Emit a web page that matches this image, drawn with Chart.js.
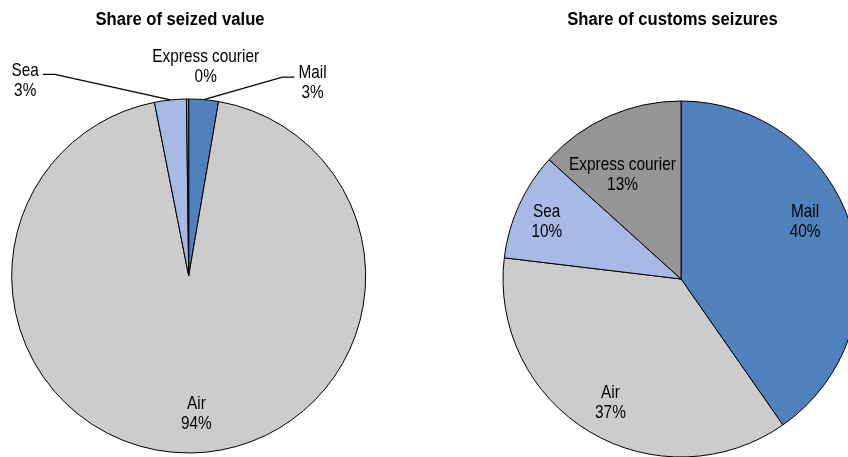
<!DOCTYPE html>
<html>
<head>
<meta charset="utf-8">
<title>Customs seizures by transport mode</title>
<script src="https://cdn.jsdelivr.net/npm/chart.js"></script>
<style>
  html,body{margin:0;padding:0;background:#fff}
  #wrap{position:relative;width:848px;height:457px;overflow:hidden}
  .box{position:absolute;top:0;width:424px;height:457px}
  #boxL{left:0} #boxR{left:424px}
</style>
</head>
<body>
<div id="wrap">
  <div class="box" id="boxL"><canvas id="chL"></canvas></div>
  <div class="box" id="boxR"><canvas id="chR"></canvas></div>
</div>
<script>
const modes = ['Mail', 'Air', 'Sea', 'Express courier']
const valueShare = [2.7, 94.2, 2.9, 0.2]
const seizureShare = [40.3, 36.6, 9.8, 13.3]
const titleValue = 'Share of seized value'
const titleSeizures = 'Share of customs seizures'
const colors = ['#4f81bd', '#cccccc', '#a7b9e4', '#959595']

const LABEL_FONT = "18.5px 'Liberation Sans Narrow', 'Arial Narrow', 'Liberation Sans', Arial, sans-serif"
const TITLE_FONT = "bold 17.5px 'Liberation Sans', Arial, sans-serif"
const NARROW = 0.83 // no narrow face installed, squeeze the regular one

// text squeezed horizontally around (x, y)
function squeezed(ctx, str, x, y, sx){
  ctx.save(); ctx.translate(x, y); ctx.scale(sx, 1); ctx.fillText(str, 0, 0); ctx.restore()
}

// title + "name / pct%" labels. place[i] = [degrees from 12 o'clock, distance as share of radius, leader line?]
const pieLabels = {
  id: 'pieLabels',
  afterDatasetsDraw(chart, args, o){
    const ctx = chart.ctx
    const arcs = chart.getDatasetMeta(0).data
    const vals = chart.data.datasets[0].data
    const cx = arcs[0].x, cy = arcs[0].y, r = arcs[0].outerRadius
    ctx.save()
    ctx.fillStyle = '#000'; ctx.strokeStyle = '#000'; ctx.lineWidth = 1.2
    ctx.textAlign = 'center'; ctx.textBaseline = 'alphabetic'
    ctx.font = TITLE_FONT
    squeezed(ctx, o.title, cx + o.titleDx, o.titleY, 0.95)
    ctx.font = LABEL_FONT; ctx.textBaseline = 'middle'
    chart.data.labels.forEach((name, i)=>{
      const [deg, d, leader] = o.place[i]
      const t = (deg - 90) * Math.PI / 180
      const lx = cx + Math.cos(t)*d*r, ly = cy + Math.sin(t)*d*r
      const pct = Math.round(vals[i]) + '%'
      squeezed(ctx, name, lx, ly - 10, NARROW)
      squeezed(ctx, pct, lx, ly + 10, NARROW)
      if(leader){
        const a = arcs[i], m = (a.startAngle + a.endAngle) / 2
        const w = NARROW * Math.max(ctx.measureText(name).width, ctx.measureText(pct).width)
        const side = lx < cx ? 1 : -1
        const ex = lx + side*(w/2 + 4), hy = ly - 6
        ctx.beginPath()
        ctx.moveTo(cx + Math.cos(m)*r, cy + Math.sin(m)*r)
        ctx.lineTo(ex + side*12, hy)
        ctx.lineTo(ex, hy)
        ctx.stroke()
      }
    })
    ctx.restore()
  }
}

function pie(id, data, pad, radius, opts){
  return new Chart(document.getElementById(id), {
    type: 'pie',
    data: { labels: modes, datasets: [{ data, backgroundColor: colors, borderColor: '#000', borderWidth: 1, hoverOffset: 0, radius }] },
    options: {
      responsive: true, maintainAspectRatio: false, animation: false,
      layout: { padding: pad },
      plugins: { legend: { display: false }, tooltip: { enabled: false }, pieLabels: opts }
    },
    plugins: [pieLabels]
  })
}

pie('chL', valueShare, { left: 0, right: 46.6, top: 95, bottom: 0 }, 177, {
  title: titleValue, titleDx: -8.7, titleY: 25,
  place: [[32.7, 1.295, true], [176.8, 0.78], [320.1, 1.44, true], [4.65, 1.185]]
})
pie('chR', seizureShare, { left: 90, right: 0, top: 101, bottom: 0 }, 178, {
  title: titleSeizures, titleDx: -8.5, titleY: 25,
  place: [[65.3, 0.767], [209.7, 0.8], [293.1, 0.82], [330.6, 0.67]]
})
</script>
</body>
</html>
